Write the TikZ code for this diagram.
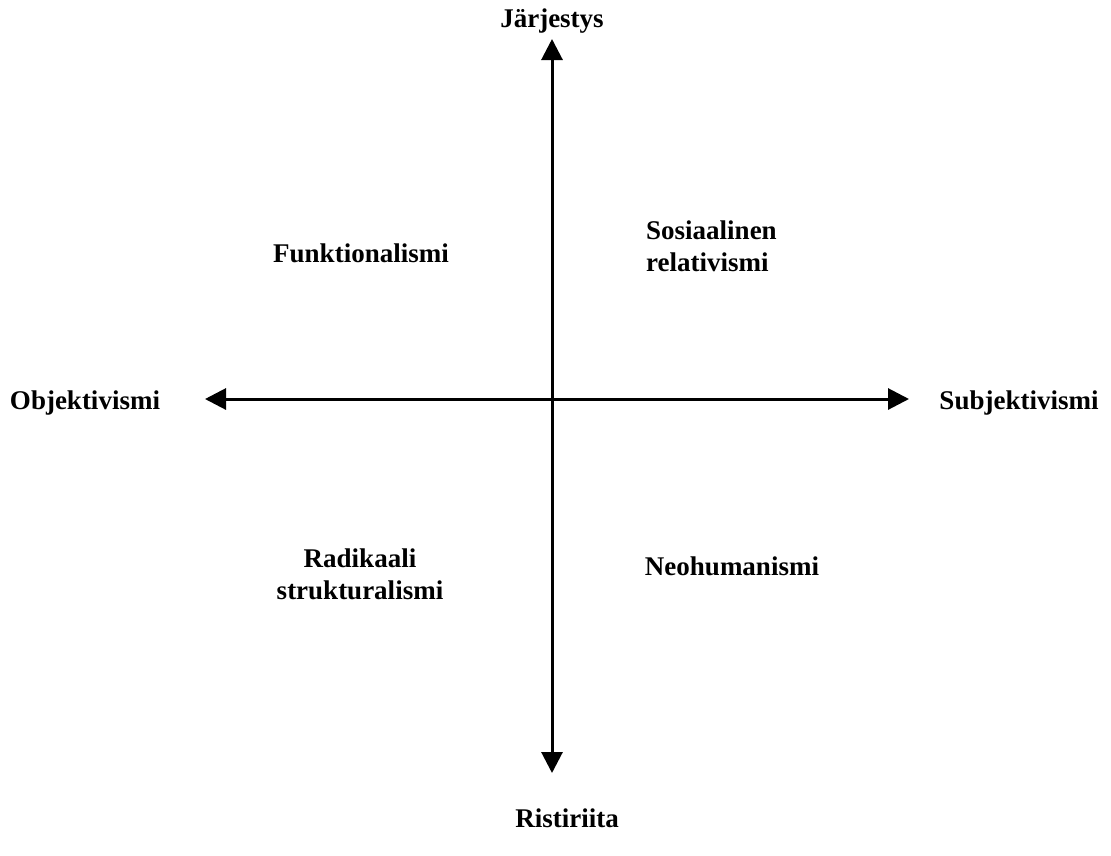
\documentclass[tikz,border=0pt]{standalone}
\usepackage{fontspec}
\setmainfont{Liberation Serif}
\usetikzlibrary{arrows.meta}
\tikzset{
  lbl/.style={font=\fontsize{27}{32}\selectfont\bfseries, inner sep=0pt, align=center},
  lblleft/.style={lbl, align=left, anchor=west},
  axis/.style={line width=3pt, {Triangle[length=21pt,width=21pt]}-{Triangle[length=21pt,width=21pt]}}
}
\begin{document}
\begin{tikzpicture}[x=1pt,y=-1pt]
  \useasboundingbox (0,0) rectangle (1111,855);
  % axis end points
  \coordinate (top) at (552,39);
  \coordinate (bottom) at (552,773);
  \coordinate (left) at (205,399);
  \coordinate (right) at (909,399);
  \draw[axis] (top) -- (bottom);
  \draw[axis] (left) -- (right);
  % axis labels
  \node[lbl] (jar) at (552,21) {Järjestys};
  \node[lbl] (ris) at (567,818) {Ristiriita};
  \node[lbl] (obj) at (85,403) {Objektivismi};
  \node[lbl] (sub) at (1019,403) {Subjektivismi};
  % quadrant labels
  \node[lbl] (fun) at (361,253) {Funktionalismi};
  \node[lblleft] (sos) at (646,246) {Sosiaalinen\\relativismi};
  \node[lbl] (rad) at (360,574) {Radikaali\\strukturalismi};
  \node[lbl] (neo) at (732,566) {Neohumanismi};
\end{tikzpicture}
\end{document}
